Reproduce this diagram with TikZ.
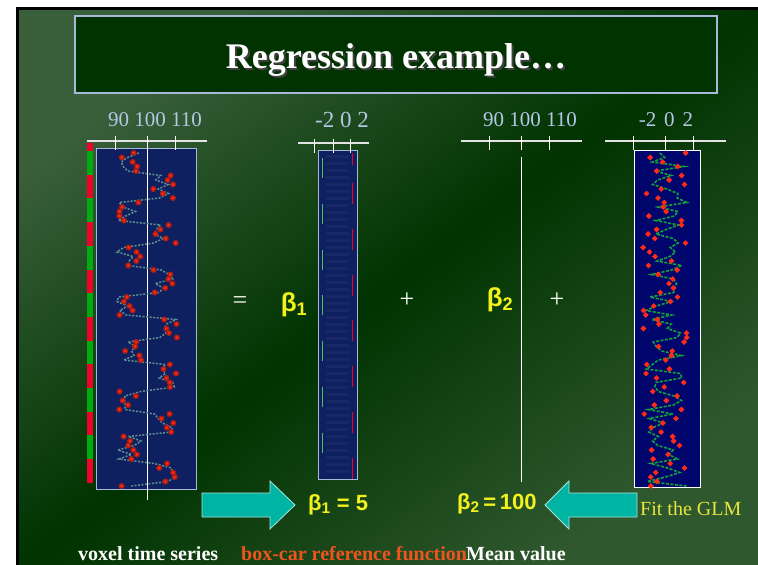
\documentclass[tikz,border=0pt]{standalone}
\usepackage{fontspec}
\setmainfont{Liberation Serif}
\newfontfamily\betafont{Liberation Sans}
\usetikzlibrary{positioning}
\definecolor{slideLight}{HTML}{3A603B}
\definecolor{slideDark}{HTML}{003300}
\definecolor{slideLow}{HTML}{30582F}
\definecolor{titleGreen}{HTML}{003300}
\definecolor{frameBlue}{HTML}{A8B8D8}
\definecolor{axisBlue}{HTML}{B4C8E6}
\definecolor{plotNavy}{HTML}{0F2060}
\definecolor{noiseNavy}{HTML}{00066C}
\definecolor{barRed}{HTML}{F2002C}
\definecolor{barGreen}{HTML}{00AA10}
\definecolor{dotRed}{HTML}{FF2A1A}
\definecolor{traceTeal}{HTML}{5F9090}
\definecolor{traceGreen}{HTML}{14A03C}
\definecolor{betaYellow}{HTML}{F2F21E}
\definecolor{glmYellow}{HTML}{E6E63C}
\definecolor{arrowTeal}{HTML}{00B4A4}
\definecolor{boxcarOrange}{HTML}{F0541E}
\newcommand{\betasub}[1]{β\textsubscript{#1}}

\begin{document}
\begin{tikzpicture}[x=1pt, y=-1pt,
    plotbox/.style={draw=frameBlue, line width=0.9pt, inner sep=0pt},
    axislbl/.style={text=axisBlue, anchor=base, inner sep=0pt,
                    font=\fontsize{21}{21}\selectfont},
    axisline/.style={draw=white!78!gray, line width=1.6pt},
    tickmark/.style={draw=white, line width=0.9pt},
    betalbl/.style={text=betaYellow, anchor=base west, inner sep=0pt,
                    font=\betafont\bfseries\fontsize{22}{22}\selectfont},
    oplbl/.style={text=white, inner sep=0pt, font=\fontsize{26}{26}\selectfont},
    caption/.style={anchor=base west, inner sep=0pt,
                    font=\bfseries\fontsize{20}{20}\selectfont},
    blockarrow/.style={fill=arrowTeal, draw=arrowTeal!35!white, line width=0.8pt},
  ]
    \useasboundingbox (0,0) rectangle (758,565);
    \fill[white] (0,0) rectangle (758,565);
    \fill[black] (16,7) rectangle (758,565);
    \shade[top color=slideLight, bottom color=slideLow, middle color=slideDark,
           shading angle=37] (19,10) rectangle (758,565);

    % Title
    \node[draw=frameBlue, line width=1.2pt, fill=titleGreen, inner sep=0pt,
          minimum width=642pt, minimum height=77pt] (titlebox) at (396,54.5) {};
    \node[anchor=base, inner sep=0pt, text=black!75,
          font=\bfseries\fontsize{36}{36}\selectfont] (titleshadow) at (398,70)
      {Regression example…};
    \node[anchor=base, inner sep=0pt, text=white,
          font=\bfseries\fontsize{36}{36}\selectfont] (title) at (396,68)
      {Regression example…};

    % Axis labels
    \node[axislbl] (scaleone) at (155,126) {90 100 110};
    \node[axislbl, font=\fontsize{23}{23}\selectfont] (scaletwo) at (342,127) {-2 0 2};
    \node[axislbl] (scalethree) at (530,126) {90 100 110};
    \node[axislbl] (scalefour) at (666,126) {-2\hspace{8pt}0\hspace{8pt}2};

    % Voxel time series
    \foreach \k in {0,2,...,12}
      \fill[barGreen] (87,{151+23.7*\k}) rectangle (93,{151+23.7*(\k+1)});
    \fill[barRed] (87,143) rectangle (93,151);
    \foreach \k in {1,3,...,13}
      \fill[barRed] (87,{151+23.7*\k}) rectangle (93,{151+23.7*(\k+1)});
    \node[plotbox, fill=plotNavy, minimum width=100pt, minimum height=341pt]
      (voxelbox) at (146,318.5) {};
    \draw[axisline] (87,141) -- (207,141);
    \foreach \tx in {115,175}
      \draw[tickmark] (\tx,136) -- (\tx,150);
    \draw[tickmark] (147,136) -- (147,500);
    \pgfmathsetseed{4}
    \draw[traceTeal, line width=1.5pt, dash pattern=on 2pt off 1.5pt,
          mark=*, mark size=2.2pt, mark options={solid, draw=dotRed!70!black, fill=dotRed}]
      plot[variable=\t, domain=0:74, samples=75]
      ({147 + 18*(2*mod(floor((2+4.5*\t)/23.7),2)-1) + 12*rand}, {153+4.5*\t});

    % Box-car reference function
    \node[plotbox, fill=plotNavy, minimum width=39pt, minimum height=329pt]
      (boxcarbox) at (337.5,314.5) {};
    \foreach \yy in {156,163,...,474}
      \draw[white, opacity=0.04, line width=3pt] (326,\yy) -- (349,\yy);
    \draw[barRed, line width=1pt] (352,153) -- (352,165);
    \foreach \k in {0,...,6} {
      \draw[barGreen!70!white, line width=1pt] (322,{158+45.8*\k}) -- (322,{178+45.8*\k});
      \draw[barRed, line width=1pt] (352,{183+45.8*\k}) -- (352,{204+45.8*\k});
    }
    \draw[axisline] (298,143) -- (369,143);
    \foreach \tx in {314,333,350}
      \draw[tickmark] (\tx,139) -- (\tx,153);

    % Mean value
    \draw[axisline] (461,141) -- (582,141);
    \foreach \tx in {489,521,549}
      \draw[tickmark] (\tx,136) -- (\tx,150);
    \coordinate (meantop) at (521,157);
    \coordinate (meanbottom) at (521,482);
    \draw[white, line width=1pt] (meantop) -- (meanbottom);

    % Residual noise
    \node[plotbox, draw=white, fill=noiseNavy, minimum width=66pt, minimum height=337pt]
      (noisebox) at (667,318.5) {};
    \draw[axisline] (605,141) -- (726,141);
    \foreach \tx in {633,665,693}
      \draw[tickmark] (\tx,136) -- (\tx,150);
    \pgfmathsetseed{9}
    \draw[traceGreen, line width=1.6pt, dash pattern=on 3pt off 1.5pt,
          mark=*, mark size=1.8pt, mark options={solid, draw=dotRed, fill=dotRed}]
      plot[variable=\t, domain=0:74, samples=75]
      ({665+22*rand}, {153+4.5*\t});

    % Equation
    \node[oplbl] (eqsign) at (240,303) {=};
    \node[betalbl, anchor=center, font=\betafont\bfseries\fontsize{26}{26}\selectfont]
      (betaone) at (294,305) {\betasub{1}};
    \node[oplbl] (plusone) at (407,300) {+};
    \node[betalbl, anchor=center, font=\betafont\bfseries\fontsize{26}{26}\selectfont]
      (betatwo) at (500,300) {\betasub{2}};
    \node[oplbl] (plustwo) at (557,300) {+};

    % Fit result
    \filldraw[blockarrow] (202,493) -- (270,493) -- (270,481) -- (295,505)
      -- (270,529) -- (270,517) -- (202,517) -- cycle;
    \filldraw[blockarrow] (637,493) -- (569,493) -- (569,481) -- (545,505)
      -- (569,529) -- (569,517) -- (637,517) -- cycle;
    \node[betalbl] (betaonefit) at (308,510) {\betasub{1} = 5};
    \node[betalbl] (betatwofit) at (457,509) {\betasub{2}\,=\,100};
    \node[anchor=base west, inner sep=0pt, text=glmYellow,
          font=\fontsize{20}{20}\selectfont] (fitglm) at (640,515) {Fit the GLM};

    % Captions
    \node[caption, text=white] (lblvoxel) at (78,560) {voxel time series};
    \node[caption, text=boxcarOrange] (lblboxcar) at (241,560) {box-car reference function};
    \node[caption, text=white] (lblmean) at (466,560) {Mean value};
  \end{tikzpicture}
\end{document}
